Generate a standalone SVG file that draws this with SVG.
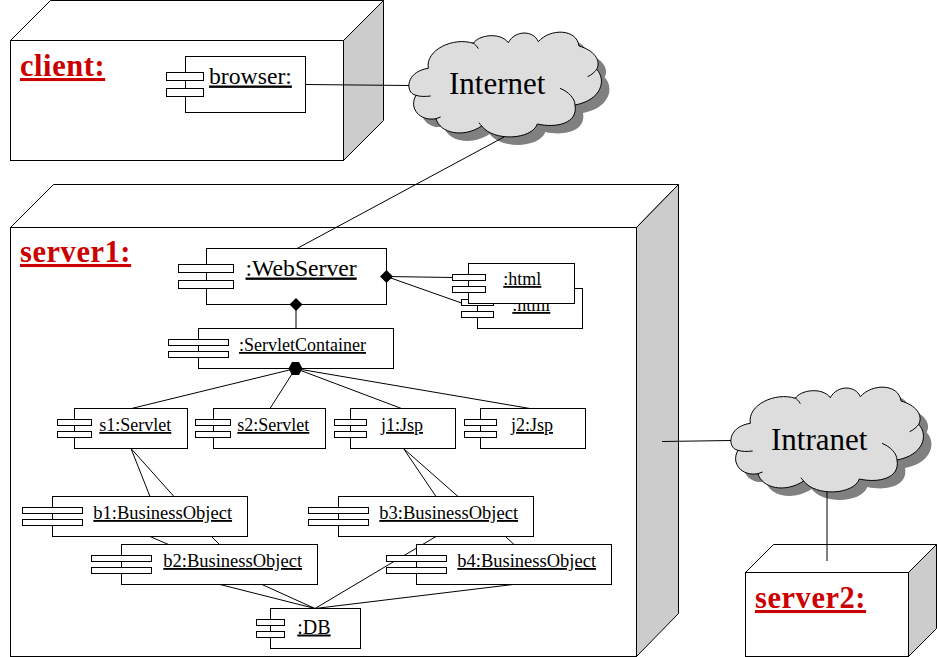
<svg xmlns="http://www.w3.org/2000/svg" xmlns:xlink="http://www.w3.org/1999/xlink" width="937" height="657" viewBox="0 0 937 657">
<style>
text{font-family:"Liberation Serif","Times New Roman",serif;fill:#000}
.box{fill:#fff;stroke:#000;stroke-width:1}
.side{fill:#ccc;stroke:#000;stroke-width:1}
.line{fill:none;stroke:#000;stroke-width:1}
.dia{fill:#000;stroke:none}
.u{text-decoration:underline}
.dev{font-size:30.5px;font-weight:bold;fill:#c00;text-decoration:underline;letter-spacing:.55px}
.c18{font-size:18px}
.c185{font-size:18.5px}
.c20{font-size:20px}
.c23{font-size:23.7px}
.net{font-size:31px}
</style>
<defs>
<g id="cloud" transform="scale(0.33333)">
<path fill="#808080" transform="translate(24 24)" d="M85,205 C75,150 160,110 220,130 C235,105 300,95 325,128 C345,90 400,90 415,125 C450,85 530,85 537,138 C580,150 605,180 590,208 C620,240 605,300 525,315 C535,370 470,385 412,372 C395,420 280,425 245,378 C190,415 120,400 108,356 C60,365 25,325 48,286 C15,280 15,215 85,205 Z"/>
<path fill="#ddd" stroke="#000" stroke-width="3" d="M85,205 C75,150 160,110 220,130 C235,105 300,95 325,128 C345,90 400,90 415,125 C450,85 530,85 537,138 C580,150 605,180 590,208 C620,240 605,300 525,315 C535,370 470,385 412,372 C395,420 280,425 245,378 C190,415 120,400 108,356 C60,365 25,325 48,286 C15,280 15,215 85,205 Z"/>
<path fill="none" stroke="#000" stroke-width="3" d="M218,128 C225,132 230,138 235,146 M590,208 C585,215 575,225 563,230 M525,315 C525,295 505,275 480,265 M245,378 C242,375 240,372 237,368 M108,356 L122,351 M48,286 C60,290 75,290 92,288"/>
</g>
</defs>
<rect width="937" height="657" fill="#fff"/>
<g id="client">
<path class="box" d="M10.5,40.5 L50.5,0.5 H383.5 L343.5,40.5 Z"/>
<path class="side" d="M343.5,40.5 L383.5,0.5 V120.5 L343.5,160.5 Z"/>
<rect class="box" x="10.5" y="40.5" width="333" height="120"/>
<text class="dev" x="20" y="76">client:</text>
</g>
<g id="server1">
<path class="box" d="M10.5,227.5 L53.5,184.5 H678.5 L636.5,227.5 Z"/>
<path class="side" d="M636.5,227.5 L678.5,184.5 V613.5 L636.5,656.5 Z"/>
<rect class="box" x="10.5" y="227.5" width="626" height="429"/>
<text class="dev" x="20" y="262">server1:</text>
</g>
<g id="server2">
<path class="box" d="M745.5,572.5 L773.5,544.5 H936.5 L908.5,572.5 Z"/>
<path class="side" d="M908.5,572.5 L936.5,544.5 V628.5 L908.5,656.5 Z"/>
<rect class="box" x="745.5" y="572.5" width="163" height="84"/>
<text class="dev" x="755" y="608">server2:</text>
</g>
<g id="internet">
<use xlink:href="#cloud" href="#cloud" transform="translate(400 0)"/>
<text class="net" x="449" y="93.5">Internet</text>
</g>
<g id="intranet">
<use xlink:href="#cloud" href="#cloud" transform="translate(722 355)"/>
<text class="net" x="771" y="450">Intranet</text>
</g>
<g id="connectors">
<path class="line" d="M305.5,84.5 L409,85.5"/>
<path class="line" d="M504,137 L297,248.5"/>
<path class="line" d="M662,441.5 L731,440.5"/>
<path class="line" d="M827,492 V561"/>
<path class="line" d="M386.5,276.5 L452.5,277.5 M386.5,276.5 L461.5,303"/>
<path class="line" d="M296,304.5 V328.5"/>
<path class="line" d="M295.5,368.5 L131.5,408.5 M295.5,368.5 L270,408.5 M295.5,368.5 L401.5,408.5 M295.5,368.5 L530,408.5"/>
<path class="line" d="M131,448.5 L150,496.5 M131,448.5 L174,496.5 M150,536.5 L168.5,544.5 M211.5,536.5 L219.5,544.5"/>
<path class="line" d="M220,584.5 L315,608.5 M262,584.5 L315,608.5"/>
<path class="line" d="M403.5,448.5 L436,496.5 M403.5,448.5 L458,496.5 M436,536.5 L315,608.5 M505.5,536.5 L514,544.5 M513,584.5 L315,608.5"/>
</g>
<g id="htm">
<rect class="box" x="477.5" y="288.5" width="105" height="40"/>
<rect class="box" x="461.5" y="299.5" width="32" height="6"/>
<rect class="box" x="461.5" y="311.5" width="32" height="6"/>
<text class="c18 u" x="512.3" y="311">:html</text>
</g>
<g id="html">
<rect class="box" x="468.5" y="263.5" width="106" height="40"/>
<rect class="box" x="452.5" y="274.5" width="33" height="6"/>
<rect class="box" x="452.5" y="286.5" width="33" height="6"/>
<text class="c18 u" x="503.3" y="285">:html</text>
</g>
<g id="browser">
<rect class="box" x="185.5" y="56.5" width="120" height="56"/>
<rect class="box" x="166.5" y="72.5" width="37" height="8"/>
<rect class="box" x="166.5" y="88.5" width="37" height="8"/>
<text class="c23 u" x="209" y="83.5">browser:</text>
</g>
<g id="webserver">
<rect class="box" x="206.5" y="248.5" width="180" height="56"/>
<rect class="box" x="178.5" y="264.5" width="55" height="8"/>
<rect class="box" x="178.5" y="280.5" width="55" height="8"/>
<text class="c23 u" x="245.5" y="275.5">:WebServer</text>
<path class="dia" d="M386.5,270 L393,276.5 L386.5,283 L380,276.5 Z"/>
<path class="dia" d="M296,298 L302.5,304.5 L296,311 L289.5,304.5 Z"/>
</g>
<g id="servletcontainer">
<rect class="box" x="198.5" y="328.5" width="195" height="40"/>
<rect class="box" x="168.5" y="339.5" width="60" height="6"/>
<rect class="box" x="168.5" y="351.5" width="60" height="6"/>
<text class="c18 u" x="239" y="351">:ServletContainer</text>
<path class="dia" d="M292,362 H299 L302.5,368.5 L299,375 H292 L288.5,368.5 Z"/>
</g>
<g id="s1">
<rect class="box" x="74.5" y="408.5" width="113" height="40"/>
<rect class="box" x="57.5" y="419.5" width="34" height="6"/>
<rect class="box" x="57.5" y="431.5" width="34" height="6"/>
<text class="c18 u" x="99.3" y="431">s1:Servlet</text>
</g>
<g id="s2">
<rect class="box" x="213.5" y="408.5" width="112" height="40"/>
<rect class="box" x="195.5" y="419.5" width="35" height="6"/>
<rect class="box" x="195.5" y="431.5" width="35" height="6"/>
<text class="c18 u" x="237.3" y="431">s2:Servlet</text>
</g>
<g id="j1">
<rect class="box" x="350.5" y="408.5" width="105" height="40"/>
<rect class="box" x="334.5" y="419.5" width="32" height="6"/>
<rect class="box" x="334.5" y="431.5" width="32" height="6"/>
<text class="c18 u" x="381" y="431">j1:Jsp</text>
</g>
<g id="j2">
<rect class="box" x="480.5" y="408.5" width="105" height="40"/>
<rect class="box" x="464.5" y="419.5" width="32" height="6"/>
<rect class="box" x="464.5" y="431.5" width="32" height="6"/>
<text class="c18 u" x="511" y="431">j2:Jsp</text>
</g>
<g id="b1">
<rect class="box" x="52.5" y="496.5" width="195" height="40"/>
<rect class="box" x="22.5" y="507.5" width="60" height="6"/>
<rect class="box" x="22.5" y="519.5" width="60" height="6"/>
<text class="c185 u" x="93.3" y="519">b1:BusinessObject</text>
</g>
<g id="b3">
<rect class="box" x="338.5" y="496.5" width="195" height="40"/>
<rect class="box" x="308.5" y="507.5" width="60" height="6"/>
<rect class="box" x="308.5" y="519.5" width="60" height="6"/>
<text class="c185 u" x="379.3" y="519">b3:BusinessObject</text>
</g>
<g id="b2">
<rect class="box" x="121.5" y="544.5" width="196" height="40"/>
<rect class="box" x="91.5" y="555.5" width="60" height="6"/>
<rect class="box" x="91.5" y="567.5" width="60" height="6"/>
<text class="c185 u" x="163.3" y="567">b2:BusinessObject</text>
</g>
<g id="b4">
<rect class="box" x="416.5" y="544.5" width="195" height="40"/>
<rect class="box" x="386.5" y="555.5" width="60" height="6"/>
<rect class="box" x="386.5" y="567.5" width="60" height="6"/>
<text class="c185 u" x="457.3" y="567">b4:BusinessObject</text>
</g>
<g id="db">
<rect class="box" x="270.5" y="608.5" width="90" height="40"/>
<rect class="box" x="256.5" y="619.5" width="28" height="6"/>
<rect class="box" x="256.5" y="631.5" width="28" height="6"/>
<text class="c20 u" x="297.3" y="633.5">:DB</text>
</g>
</svg>
